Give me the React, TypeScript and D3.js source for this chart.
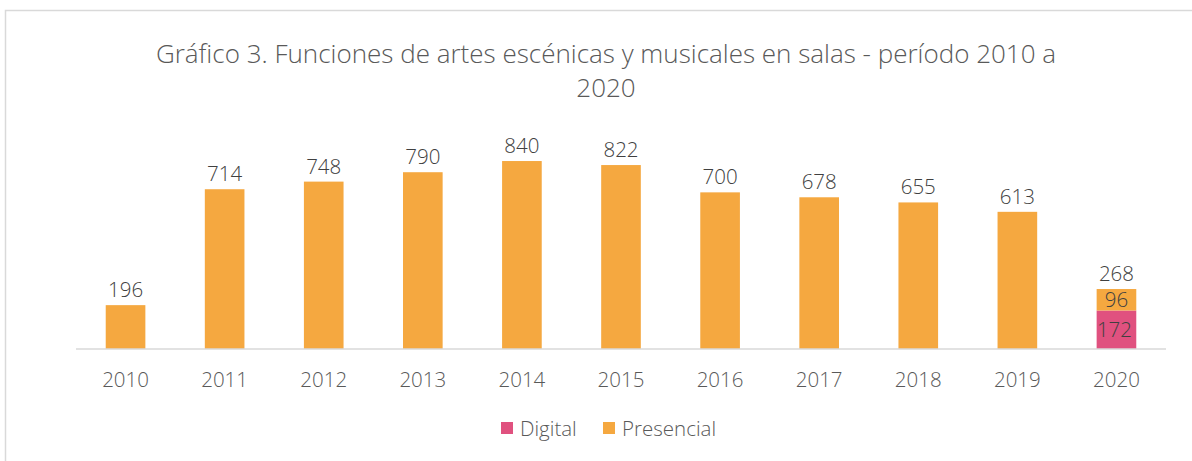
import React from "react";
import * as d3 from "d3";

const years = ["2010","2011","2012","2013","2014","2015","2016","2017","2018","2019","2020"];
const digital = [0,0,0,0,0,0,0,0,0,0,172];
const presencial = [196,714,748,790,840,822,700,678,655,613,96];
const seriesNames = ["Digital","Presencial"];
const colors = ["#E0517F","#F5A840"];

const W = 1192, H = 461;
const FONT = "'Open Sans', 'Noto Sans', sans-serif";

export default function App() {
  const x = d3.scaleBand().domain(years).range([76, 1166]).paddingInner(0.6).paddingOuter(0.3);
  const y = d3.scaleLinear().domain([0, 900]).range([349, 147.6]);
  const rows = years.map((yr, i) => ({ year: yr, Digital: digital[i], Presencial: presencial[i] }));
  const stack = d3.stack<any>().keys(seriesNames)(rows);
  const textColor = "#595959";
  return (
    <svg width={W} height={H} style={{ position: "absolute", left: 0, top: 0, background: "#fff" }}>
      <rect x={5.5} y={10.5} width={1200} height={470} fill="#fff" stroke="#D9D9D9" strokeWidth={1.5} />
      <text x={606} y={63} textAnchor="middle" fontFamily={FONT} fontSize={26} fill={textColor} fontWeight={300}>
        Gráfico 3. Funciones de artes escénicas y musicales en salas - período 2010 a
      </text>
      <text x={606} y={97} textAnchor="middle" fontFamily={FONT} fontSize={26} fill={textColor} fontWeight={300}>
        2020
      </text>
      {stack.map((s, si) => (
        <g key={s.key} fill={colors[si]}>
          {s.map((d, i) => d[1] - d[0] > 0 ? (
            <rect key={i} x={x(years[i])!} width={x.bandwidth()} y={y(d[1])} height={y(d[0]) - y(d[1])} />
          ) : null)}
        </g>
      ))}
      <line x1={76} x2={1166} y1={349} y2={349} stroke="#D9D9D9" strokeWidth={1.5} />
      {years.map((yr, i) => {
        const total = digital[i] + presencial[i];
        const cx = x(yr)! + x.bandwidth() / 2;
        return (
          <g key={yr} fontFamily={FONT} fontSize={20.5} fill="#404040" textAnchor="middle" fontWeight={300}>
            <text x={cx} y={y(total) - 8}>{total}</text>
            {digital[i] > 0 && (
              <>
                <text x={cx} y={(y(digital[i]) + y(total)) / 2 + 7}>{presencial[i]}</text>
                <text x={cx - 2} y={(y(0) + y(digital[i])) / 2 + 7}>{digital[i]}</text>
              </>
            )}
            <text x={cx} y={387} fill={textColor}>{yr}</text>
          </g>
        );
      })}
      <g fontFamily={FONT} fontSize={20.5} fill={textColor} fontWeight={300}>
        <rect x={501} y={422} width={12} height={12} fill={colors[0]} />
        <text x={520} y={436}>{seriesNames[0]}</text>
        <rect x={603} y={422} width={12} height={12} fill={colors[1]} />
        <text x={622} y={436}>{seriesNames[1]}</text>
      </g>
    </svg>
  );
}
